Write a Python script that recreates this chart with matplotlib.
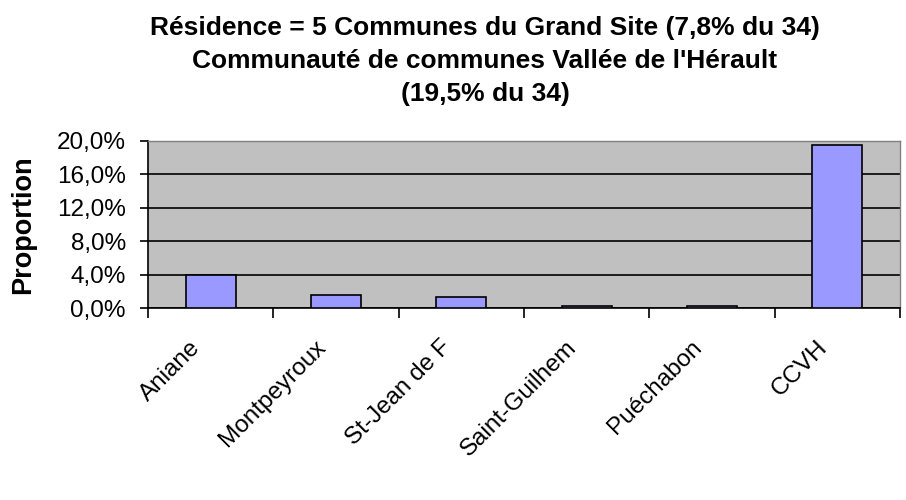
import matplotlib
matplotlib.use("Agg")
import matplotlib.pyplot as plt
from matplotlib.ticker import FixedLocator, FuncFormatter, NullFormatter
import numpy as np

communes = ["Aniane", "Montpeyroux", "St-Jean de F", "Saint-Guilhem", "Puéchabon", "CCVH"]
proportion = [4.0, 1.6, 1.3, 0.2, 0.2, 19.5]
y_ticks = [0, 4, 8, 12, 16, 20]
title = ("Résidence = 5 Communes du Grand Site (7,8% du 34)\n"
         "Communauté de communes Vallée de l'Hérault\n"
         "(19,5% du 34)")

plt.rcParams["font.family"] = ["Liberation Sans", "DejaVu Sans"]

fig = plt.figure(figsize=(9.06, 5.0), dpi=100)
ax = fig.add_axes([148 / 906, 192 / 500, 752 / 906, 167 / 500])
ax.set_facecolor("#c0c0c0")

x = np.arange(len(communes))
ax.bar(x, proportion, width=0.4, color="#9999ff", edgecolor="black", linewidth=1.2, zorder=3)

ax.set_xlim(-0.5, len(communes) - 0.5)
ax.set_ylim(0, 20)
ax.set_yticks(y_ticks)
ax.yaxis.set_major_formatter(FuncFormatter(lambda v, p: f"{v:.1f}%".replace(".", ",")))
ax.yaxis.grid(True, color="black", linewidth=1.2, zorder=1)
ax.set_axisbelow(True)
ax.tick_params(axis="y", direction="out", length=6, width=1.2, labelsize=17.5, pad=10)

# ticks sit between categories, labels go under the bar centres
ax.xaxis.set_major_locator(FixedLocator(np.arange(len(communes) + 1) - 0.5))
ax.xaxis.set_major_formatter(NullFormatter())
ax.tick_params(axis="x", which="major", direction="out", length=7, width=1.2)
for xi, name in zip(x, communes):
    ax.annotate(name, xy=(xi, 0), xycoords=("data", "axes fraction"),
                xytext=(-9.5, -26), textcoords="offset points",
                ha="right", va="center", rotation=45, rotation_mode="anchor",
                fontsize=17.5, annotation_clip=False)

for s in ["left", "bottom"]:
    ax.spines[s].set_color("black")
    ax.spines[s].set_linewidth(1.2)
for s in ["top", "right"]:
    ax.spines[s].set_color("#808080")
    ax.spines[s].set_linewidth(1)

ax.set_ylabel("Proportion", fontsize=19.5, fontweight="bold")
ax.yaxis.set_label_coords(-112 / 752, 0.5)

fig.text(485 / 906, 1 - 61 / 500, title, ha="center", va="center", fontsize=19,
         fontweight="bold", linespacing=1.5)

plt.savefig("out.png", dpi=100)
